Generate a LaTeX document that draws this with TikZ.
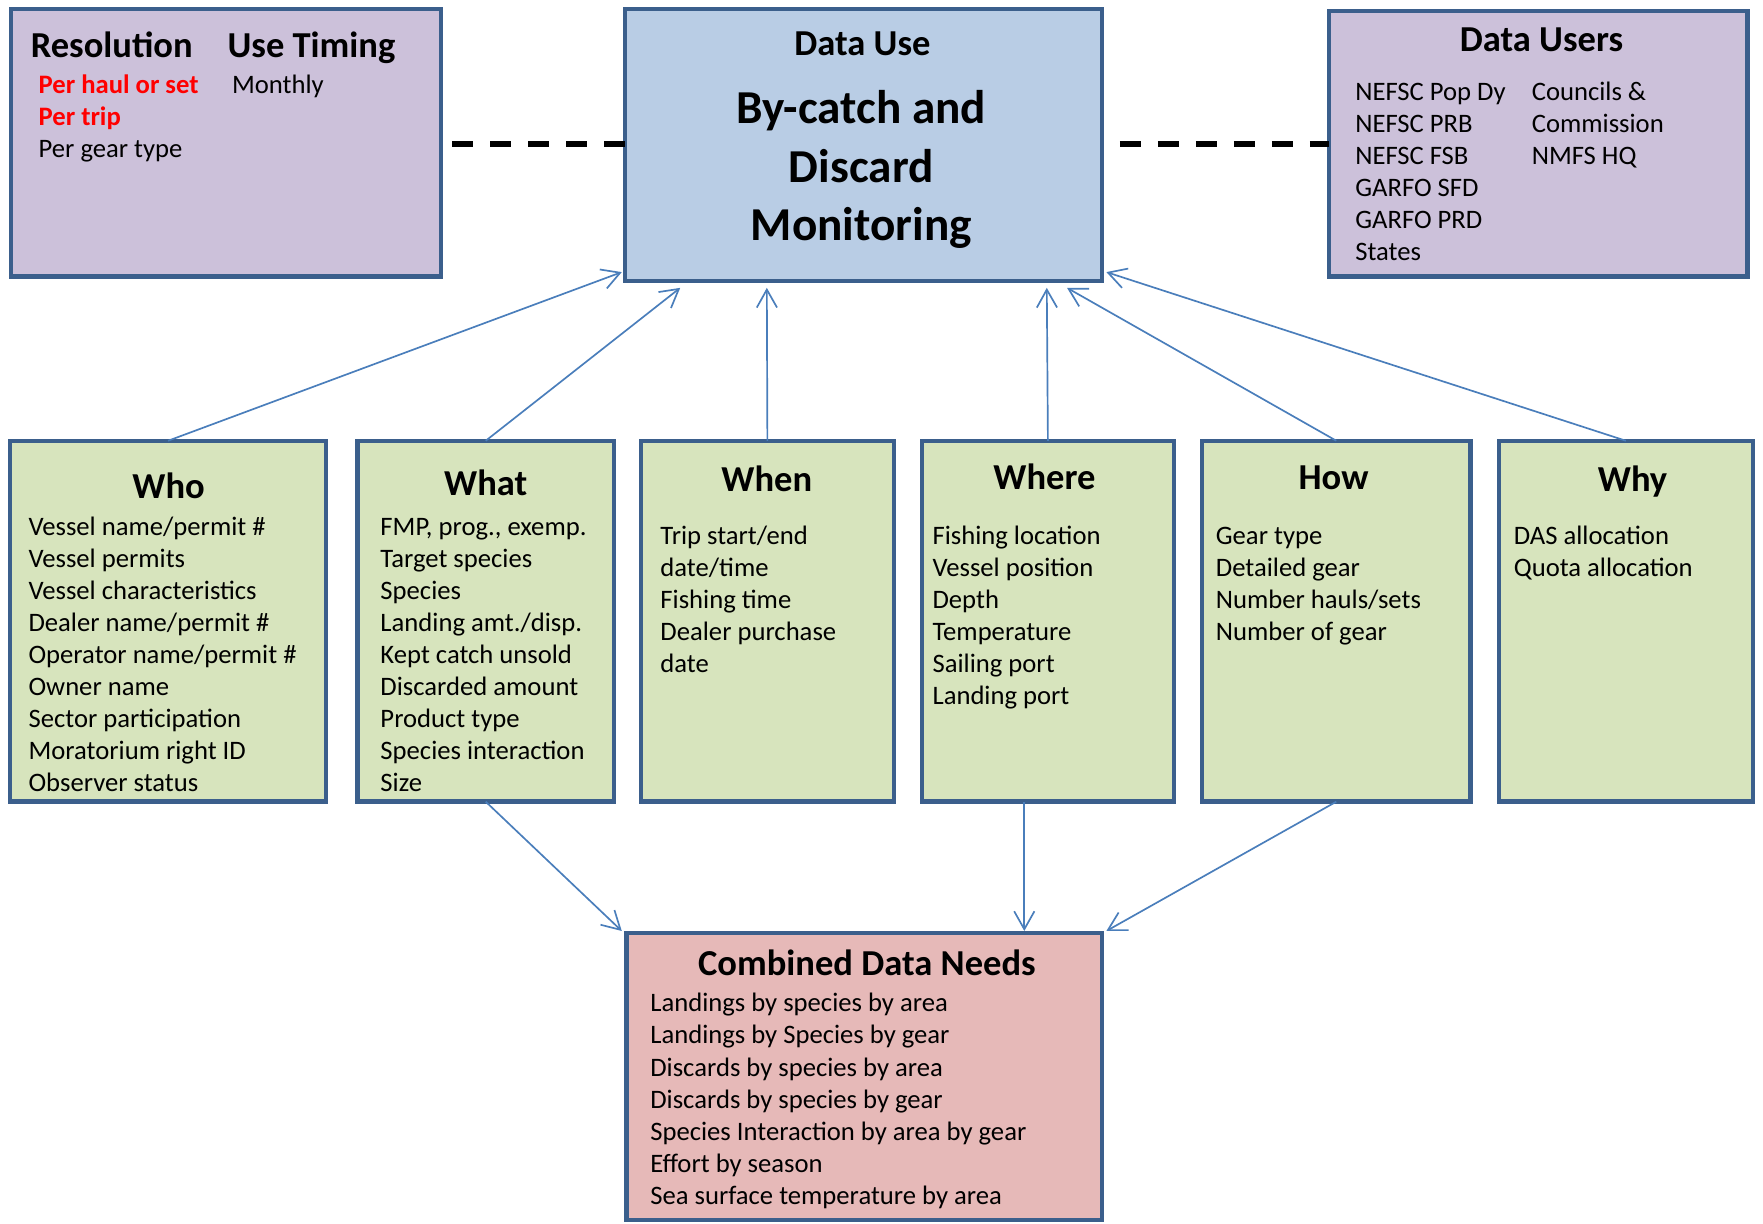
\documentclass[tikz,border=0pt]{standalone}
\usepackage{fontspec}
\setmainfont{Carlito}
\usetikzlibrary{arrows.meta}
\definecolor{bordc}{HTML}{3B5F8C}
\definecolor{purp}{HTML}{CCC1DA}
\definecolor{bluef}{HTML}{B9CDE5}
\definecolor{greenf}{HTML}{D7E4BD}
\definecolor{pinkf}{HTML}{E6B9B8}
\definecolor{arrc}{HTML}{4A7EBB}
\newcommand{\ls}[1]{\begin{tabular}[t]{@{}l@{}}#1\end{tabular}}
\newcommand{\cs}[1]{\begin{tabular}[t]{@{}c@{}}#1\end{tabular}}
\tikzset{
  box/.style={draw=bordc, line width=2pt, anchor=north west, inner sep=0pt, outer sep=0pt},
  arr/.style={draw=arrc, line width=0.75pt, -{Straight Barb[length=8pt,width=9pt]}},
  dline/.style={draw=black, line width=2.5pt, dash pattern=on 9.4pt off 7.5pt},
  hd/.style={font=\fontsize{16.25}{19.5}\selectfont\bfseries, inner sep=0pt, anchor=base},
  hdw/.style={font=\fontsize{16.25}{19.5}\selectfont\bfseries, inner sep=0pt, anchor=base west},
  lst/.style={font=\fontsize{11.85}{14.25}\selectfont, inner sep=0pt, anchor=base west},
  ttl/.style={font=\fontsize{21}{26}\selectfont\bfseries, inner sep=0pt, anchor=base},
}
\begin{document}
\begin{tikzpicture}[x=0.5pt,y=-0.5pt]
\useasboundingbox (0,0) rectangle (1568,1088);
% boxes
\node[box, fill=purp, minimum width=191pt, minimum height=119pt] (res) at (10,8) {};
\node[box, fill=bluef, minimum width=212pt, minimum height=121pt] (use) at (556,8) {};
\node[box, fill=purp, minimum width=186pt, minimum height=118pt] (users) at (1182,10) {};
\node[box, fill=greenf, minimum width=140.5pt, minimum height=160.5pt] (who) at (9,392) {};
\node[box, fill=greenf, minimum width=114pt, minimum height=160.5pt] (what) at (318,392) {};
\node[box, fill=greenf, minimum width=112.5pt, minimum height=160.5pt] (when) at (570,392) {};
\node[box, fill=greenf, minimum width=112pt, minimum height=160.5pt] (where) at (820,392) {};
\node[box, fill=greenf, minimum width=119.5pt, minimum height=160.5pt] (how) at (1069,392) {};
\node[box, fill=greenf, minimum width=113pt, minimum height=160.5pt] (why) at (1333,392) {};
\node[box, fill=pinkf, minimum width=211.5pt, minimum height=127.5pt] (comb) at (557,830) {};
% Resolution box
\node[hdw] (resh) at (27,51) {Resolution};
\node[hdw] (timh) at (202,51) {Use Timing};
\node[lst, text=red, font=\fontsize{11.85}{14.25}\selectfont\bfseries] (resl) at (34,83) {\ls{Per haul or set\\Per trip}};
\node[lst] (resg) at (34,140) {Per gear type};
\node[lst] (timl) at (206,83) {Monthly};
% Data use
\node[hd] (useh) at (767,49) {Data Use};
\node[ttl] (uset) at (766,110) {\cs{By-catch and\\Discard\\Monitoring}};
% Data users
\node[hd] (usersh) at (1371,46) {Data Users};
\node[lst] (usersl) at (1205,89) {\ls{NEFSC Pop Dy\\NEFSC PRB\\NEFSC FSB\\GARFO SFD\\GARFO PRD\\States}};
\node[lst] (usersr) at (1362,89) {\ls{Councils \&\\Commission\\NMFS HQ}};
% Who
\node[hd] (whoh) at (150,443) {Who};
\node[lst] (whol) at (25,476) {\ls{Vessel name/permit \#\\Vessel permits\\Vessel characteristics\\Dealer name/permit \#\\Operator name/permit \#\\Owner name\\Sector participation\\Moratorium right ID\\Observer status}};
% What
\node[hd] (whath) at (432,441) {What};
\node[lst] (whatl) at (338,476) {\ls{FMP, prog., exemp.\\Target species\\Species\\Landing amt./disp.\\Kept catch unsold\\Discarded amount\\Product type\\Species interaction\\Size}};
% When
\node[hd] (whenh) at (682,437) {When};
\node[lst] (whenl) at (587,484) {\ls{Trip start/end\\date/time\\Fishing time\\Dealer purchase\\date}};
% Where
\node[hd] (whereh) at (929,435) {Where};
\node[lst] (wherel) at (829,484) {\ls{Fishing location\\Vessel position\\Depth\\Temperature\\Sailing port\\Landing port}};
% How
\node[hd] (howh) at (1186,435) {How};
\node[lst] (howl) at (1081,484) {\ls{Gear type\\Detailed gear\\Number hauls/sets\\Number of gear}};
% Why
\node[hd] (whyh) at (1452,437) {Why};
\node[lst] (whyl) at (1346,484) {\ls{DAS allocation\\Quota allocation}};
% Combined
\node[hd] (combh) at (771,868) {Combined Data Needs};
\node[lst] (combl) at (578,900) {\ls{Landings by species by area\\Landings by Species by gear\\Discards by species by area\\Discards by species by gear\\Species Interaction by area by gear\\Effort by season\\Sea surface temperature by area}};
% dashed links
\coordinate (dl) at (402,128);
\coordinate (dr) at (996,128);
\draw[dline] (dl) -- (use.west |- dl);
\draw[dline] (dr) -- (users.west |- dr);
% arrow targets
\coordinate (t1) at (553,242);
\coordinate (t2) at (605,256);
\coordinate (t3) at (682,256);
\coordinate (t4) at (931,256);
\coordinate (t5) at (949,256);
\coordinate (t6) at (984,242);
\coordinate (b1) at (553,828);
\coordinate (b2) at (911,828);
\coordinate (b3) at (984,828);
\draw[arr] (who.north) -- (t1);
\draw[arr] (what.north) -- (t2);
\draw[arr] (when.north) -- (t3);
\draw[arr] (where.north) -- (t4);
\draw[arr] (how.north) -- (t5);
\draw[arr] (why.north) -- (t6);
\draw[arr] (what.south) -- (b1);
\draw[arr] (where.south -| b2) -- (b2);
\draw[arr] (how.south) -- (b3);
\end{tikzpicture}
\end{document}
